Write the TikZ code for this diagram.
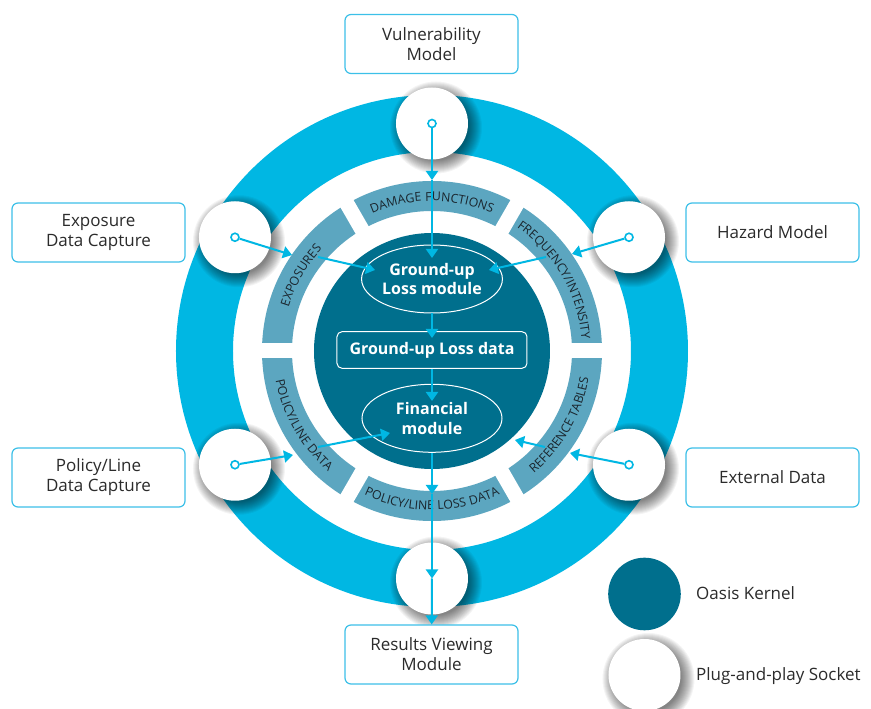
\documentclass[tikz,border=0pt]{standalone}
\usepackage{fontspec}
\setmainfont{Open Sans}
\newfontfamily\arcfam[LetterSpace=4]{Open Sans}
\usetikzlibrary{shapes.geometric,arrows.meta,decorations.text}
\definecolor{cy}{HTML}{00B7E3}
\definecolor{kern}{HTML}{006F8D}
\definecolor{seg}{HTML}{5CA6C0}
\definecolor{boxline}{HTML}{3CC0E8}
\definecolor{txt}{HTML}{2B2B2B}
\definecolor{arctxt}{HTML}{1A252D}
\newcommand{\arcfont}{\arcfam\fontsize{12.3}{12.3}\selectfont}
\begin{document}
\begin{tikzpicture}[x=1pt,y=1pt,
 socket/.style={circle, fill=white, minimum size=72pt, inner sep=0pt},
 sdot/.style={circle, draw=cy, fill=white, line width=1.6pt, minimum size=8pt, inner sep=0pt},
 arr/.style={draw=cy, line width=2pt, -{Triangle[length=9pt,width=12pt]}},
 extbox/.style={draw=boxline, line width=1.2pt, rounded corners=6pt, fill=white, minimum width=173pt, minimum height=59pt, align=center, text=txt, font=\fontsize{17}{20}\selectfont, inner sep=0pt},
 inell/.style={ellipse, draw=white, line width=1pt, minimum width=140pt, minimum height=68pt, inner sep=0pt, align=center, text=white, font=\bfseries\fontsize{16}{19.5}\selectfont},
 inbox/.style={draw=white, line width=1pt, rounded corners=5pt, minimum width=190pt, minimum height=36.6pt, inner sep=0pt, text=white, font=\bfseries\fontsize{16}{19.5}\selectfont},
 legtxt/.style={anchor=base west, text=txt, font=\fontsize{17}{20}\selectfont, inner sep=0pt},
 arclabel/.style={decorate, decoration={text along path, text align=center, text color=arctxt, text={|\arcfont|#1}}},
 sockshadow/.pic={\foreach \k in {0,...,13}{\fill[black,opacity=0.045] (4,-4) circle[radius=33+\k];}}
]
\fill[white] (-432,-358) rectangle (439,351);
\useasboundingbox (-432,-358) rectangle (439,351);

% outer ring
\fill[cy, even odd rule] (0,0) circle[radius=256] (0,0) circle[radius=199];
% segment band with gaps
\fill[seg, even odd rule] (0,0) circle[radius=170] (0,0) circle[radius=140];
\foreach \a in {0,60,120}{\draw[white, line width=15pt] (\a:180) -- (\a+180:180);}
% kernel
\fill[kern] (0,0) circle[radius=118];

% sockets
\foreach \a in {90,30,150,210,330,270}{\pic at (\a:227.5) {sockshadow};}
\node[socket] (s1) at (90:227.5) {};
\node[socket] (s2) at (150:227.5) {};
\node[socket] (s3) at (30:227.5) {};
\node[socket] (s4) at (210:227.5) {};
\node[socket] (s5) at (330:227.5) {};
\node[socket] (s6) at (270:227.5) {};
\node[sdot] (d1) at (s1) {};
\node[sdot] (d2) at (s2) {};
\node[sdot] (d3) at (s3) {};
\node[sdot] (d4) at (s4) {};
\node[sdot] (d5) at (s5) {};

% arc labels
\path[arclabel={DAMAGE FUNCTIONS}] (130:150) arc[start angle=130,end angle=50,radius=150];
\path[arclabel={FREQUENCY/INTENSITY}] (70:150) arc[start angle=70,end angle=-10,radius=150];
\path[arclabel={EXPOSURES}] (190:150) arc[start angle=190,end angle=110,radius=150];
\path[arclabel={REFERENCE TABLES}] (-70:159) arc[start angle=-70,end angle=10,radius=159];
\path[arclabel={POLICY/LINE LOSS DATA}] (230:159) arc[start angle=230,end angle=310,radius=159];
\path[arclabel={POLICY/LINE DATA}] (170:159) arc[start angle=170,end angle=250,radius=159];

% kernel contents
\node[inell] (gul) at (0,72) {Ground-up\\Loss module};
\node[inbox] (guld) at (0,1) {Ground-up Loss data};
\node[inell] (fin) at (0,-67.3) {Financial\\module};

% external boxes
\node[extbox] (vul) at (-0.5,307) {Vulnerability\\Model};
\node[extbox] (expo) at (-333.5,118.5) {Exposure\\Data Capture};
\node[extbox] (haz) at (340.5,118.5) {Hazard Model};
\node[extbox] (pol) at (-333.5,-126.5) {Policy/Line\\Data Capture};
\node[extbox] (ext) at (340.5,-126.5) {External Data};
\node[extbox] (res) at (-0.5,-303.5) {Results Viewing\\Module};

% waypoints
\coordinate (t1) at (0,171);
\coordinate (t1b) at (0,93);
\coordinate (ul1) at (-140,96);
\coordinate (ul2) at (-114,94);
\coordinate (ul3) at (-57,81);
\coordinate (ur1) at (140,97);
\coordinate (ur2) at (114,94);
\coordinate (ur3) at (57,81);
\coordinate (ll1) at (-139,-104);
\coordinate (ll2) at (-114,-96);
\coordinate (ll3) at (-42,-82);
\coordinate (lr1) at (138,-102);
\coordinate (lr2) at (113,-96);
\coordinate (lr3) at (83,-89);
\coordinate (c1) at (0,13);
\coordinate (c2) at (0,-50);
\coordinate (b1) at (0,-143);

% arrows
\draw[arr] (d1) -- (t1);
\draw[arr] (t1) -- (t1b);
\draw[arr] (d2) -- (ul1);
\draw[arr] (ul2) -- (ul3);
\draw[arr] (d3) -- (ur1);
\draw[arr] (ur2) -- (ur3);
\draw[arr] (d4) -- (ll1);
\draw[arr] (ll2) -- (ll3);
\draw[arr] (d5) -- (lr1);
\draw[arr] (lr2) -- (lr3);
\draw[arr] (gul) -- (c1);
\draw[arr] (guld) -- (c2);
\draw[arr] (fin) -- (b1);
\draw[arr] (b1) -- (s6.center);
\draw[arr] (s6.center) -- (res);

% legend
\fill[kern] (212.5,-243) circle[radius=36.3];
\node[circle, minimum size=72.6pt, inner sep=0pt] (lk) at (212.5,-243) {};
\pic at (212.5,-324) {sockshadow};
\node[socket] (ls) at (212.5,-324) {};
\node[legtxt] (lkt) at (264,-248.3) {Oasis Kernel};
\node[legtxt] (lst) at (264,-329) {Plug-and-play Socket};
\end{tikzpicture}
\end{document}
